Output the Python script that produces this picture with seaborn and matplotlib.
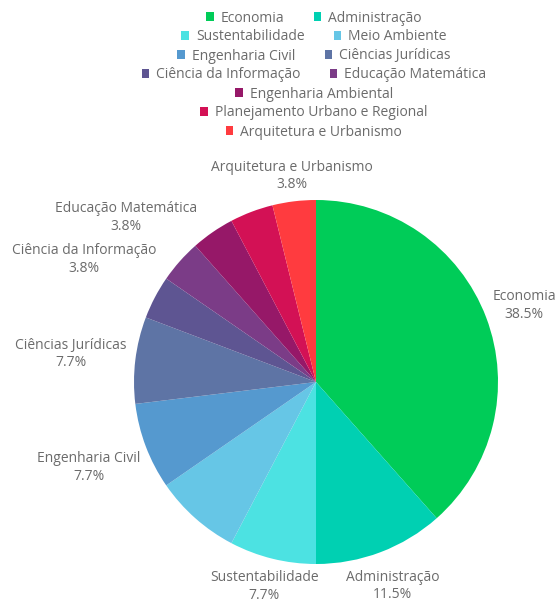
import numpy as np
import seaborn as sns
import matplotlib.pyplot as plt
from matplotlib.patches import Patch

sns.set_style("white")
plt.rcParams['font.family'] = ['Open Sans', 'DejaVu Sans']

# -----------------------------
# DATA
# -----------------------------
areas = ["Economia", "Administração", "Sustentabilidade", "Meio Ambiente",
         "Engenharia Civil", "Ciências Jurídicas", "Ciência da Informação",
         "Educação Matemática", "Engenharia Ambiental",
         "Planejamento Urbano e Regional", "Arquitetura e Urbanismo"]
counts = [10, 3, 2, 2, 2, 2, 1, 1, 1, 1, 1]
colors = ["#00CC58", "#00D0B2", "#4CE2E2", "#66C6E6", "#5599CF", "#5E74A5",
          "#5E5592", "#7B3C87", "#961868", "#D31155", "#FF3B3F"]
# labels that are not drawn next to the pie (too crowded)
hidden_labels = ["Meio Ambiente", "Engenharia Ambiental",
                 "Planejamento Urbano e Regional"]
legend_rows = [[0, 1], [2, 3], [4, 5], [6, 7], [8], [9], [10]]

text_color = "#6b6b6b"
fs = 10

fig = plt.figure(figsize=(5.6, 6.02), dpi=100)
ax = fig.add_axes([134 / 560, 38 / 602, 364 / 560, 364 / 602])

wedges, _ = ax.pie(counts, colors=colors, startangle=90, counterclock=False,
                   radius=1, wedgeprops=dict(linewidth=0))
ax.set_xlim(-1, 1)
ax.set_ylim(-1, 1)
ax.set_aspect("equal")
ax.axis("off")

# outside labels: text box touches a point just outside the wedge,
# then small pixel nudges (right, down) so they sit like the original
nudge_px = {"Economia": (0, -3), "Administração": (-8, 10),
            "Sustentabilidade": (7, 3), "Engenharia Civil": (0, 12),
            "Ciências Jurídicas": (0, -3), "Ciência da Informação": (1, -26),
            "Educação Matemática": (6, -27), "Arquitetura e Urbanismo": (9, 0)}
renderer = fig.canvas.get_renderer()
px_per_unit = ax.transData.transform((1, 0))[0] - ax.transData.transform((0, 0))[0]
total = sum(counts)
for w, name, n in zip(wedges, areas, counts):
    if name in hidden_labels:
        continue
    ang = np.deg2rad((w.theta1 + w.theta2) / 2)
    c, s = np.cos(ang), np.sin(ang)
    t = ax.text(0, 0, f"{name}\n{100 * n / total:.1f}%", ha="center", va="center",
                multialignment="center", fontsize=fs, color=text_color,
                linespacing=1.25, clip_on=False)
    bb = t.get_window_extent(renderer=renderer)
    hw = bb.width / 2 / px_per_unit
    hh = bb.height / 2 / px_per_unit
    dx, dy = nudge_px.get(name, (0, 0))
    t.set_position((c * (1.05 + hw) + dx / px_per_unit,
                    s * (1.05 + hh) - dy / px_per_unit))

# legend: one centered row at a time
row_y = [18, 37, 56, 75, 94, 113, 132]
for row, yy in zip(legend_rows, row_y):
    handles = [Patch(facecolor=colors[i], edgecolor="none", label=areas[i]) for i in row]
    fig.legend(handles=handles, ncol=len(row), loc="center",
               bbox_to_anchor=(314 / 560, 1 - yy / 602), frameon=False,
               fontsize=fs, handlelength=0.55, handleheight=0.55,
               handletextpad=0.5, columnspacing=2.1, labelcolor=text_color,
               borderpad=0, borderaxespad=0)

fig.savefig("out.png", dpi=100)
